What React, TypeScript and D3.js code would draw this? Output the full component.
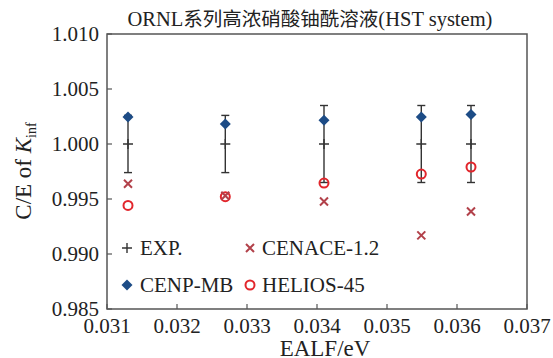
import React from "react";
import * as d3 from "d3";

const W = 553;
const H = 358;

const ealf = [0.0313, 0.03269, 0.0341, 0.03549, 0.0362];
const expVal = [1.0, 1.0, 1.0, 1.0, 1.0];
const expErr = [0.0026, 0.0026, 0.0035, 0.0035, 0.0035];
const cenpMB = [1.00245, 1.00182, 1.00215, 1.00245, 1.00269];
const cenace = [0.99639, 0.9953, 0.99478, 0.99169, 0.99387];
const helios = [0.99442, 0.99521, 0.99645, 0.99727, 0.99791];

const xTicks = [0.031, 0.032, 0.033, 0.034, 0.035, 0.036, 0.037];
const yTicks = [0.985, 0.99, 0.995, 1.0, 1.005, 1.01];

const titleParts = ["ORNL", "系列高浓硝酸铀酰溶液", "(HST system)"];
const xLabel = "EALF/eV";

const FONT = "Liberation Serif, Times New Roman, serif";
const CJK = "Noto Sans CJK SC, sans-serif";
const BLUE = "#1d4c86";
const XRED = "#b2414a";
const CRED = "#e2262c";
const AXIS = "#555";

const M = { left: 107, right: 527, top: 34, bottom: 309 };

export default function App() {
  const x = d3.scaleLinear().domain([0.031, 0.037]).range([M.left, M.right]);
  const y = d3.scaleLinear().domain([0.985, 1.01]).range([M.bottom, M.top]);
  const diamond = (cx: number, cy: number, rx = 5.5, ry = 5.5) =>
    `M${cx},${cy - ry}L${cx + rx},${cy}L${cx},${cy + ry}L${cx - rx},${cy}Z`;
  const cross = (cx: number, cy: number, r = 4) =>
    `M${cx - r},${cy - r}L${cx + r},${cy + r}M${cx - r},${cy + r}L${cx + r},${cy - r}`;
  const plus = (cx: number, cy: number, r = 5) =>
    `M${cx - r},${cy}L${cx + r},${cy}M${cx},${cy - r}L${cx},${cy + r}`;

  return (
    <svg
      width={W}
      height={H}
      fontFamily={FONT}
      style={{ position: "absolute", left: 0, top: 0, background: "#fff" }}
    >
      <rect x={0} y={0} width={W} height={H} fill="#fff" />
      <text x={310} y={26} textAnchor="middle" fontSize={20.5} fill="#222">
        <tspan>{titleParts[0]}</tspan>
        <tspan fontFamily={CJK} fontSize={19.5}>{titleParts[1]}</tspan>
        <tspan>{titleParts[2]}</tspan>
      </text>

      {/* ticks */}
      {xTicks.map((t, i) => (
        <g key={"xt" + i}>
          <line x1={x(t)} x2={x(t)} y1={M.bottom} y2={M.bottom - 5} stroke={AXIS} strokeWidth={1.2} />
          <text x={x(t)} y={333} textAnchor="middle" fontSize={21} fill="#222">
            {d3.format(".3f")(t)}
          </text>
        </g>
      ))}
      {yTicks.map((t, i) => (
        <g key={"yt" + i}>
          <line x1={M.left} x2={M.left + 5} y1={y(t)} y2={y(t)} stroke={AXIS} strokeWidth={1.2} />
          <text x={99} y={y(t)} dy="0.35em" textAnchor="end" fontSize={21} fill="#222">
            {d3.format(".3f")(t)}
          </text>
        </g>
      ))}

      <rect
        x={M.left}
        y={M.top}
        width={M.right - M.left}
        height={M.bottom - M.top}
        fill="none"
        stroke={AXIS}
        strokeWidth={1.5}
      />

      <text x={325} y={356} textAnchor="middle" fontSize={23} fill="#222">
        {xLabel}
      </text>
      <text
        transform={`translate(31,${171}) rotate(-90)`}
        textAnchor="middle"
        fontSize={23}
        fill="#222"
      >
        C/E of <tspan fontStyle="italic">K</tspan>
        <tspan fontSize={14} dy={5}>inf</tspan>
      </text>

      {/* EXP error bars */}
      {ealf.map((e, i) => {
        const cx = x(e);
        const y1 = y(expVal[i] + expErr[i]);
        const y2 = y(expVal[i] - expErr[i]);
        return (
          <g key={"eb" + i} stroke="#333" strokeWidth={1.4} fill="none">
            <line x1={cx} x2={cx} y1={y1} y2={y2} />
            <line x1={cx - 4} x2={cx + 4} y1={y1} y2={y1} />
            <line x1={cx - 4} x2={cx + 4} y1={y2} y2={y2} />
            <path d={plus(cx, y(expVal[i]))} />
          </g>
        );
      })}

      {/* HELIOS circles */}
      {ealf.map((e, i) => (
        <circle key={"h" + i} cx={x(e)} cy={y(helios[i])} r={4.5} fill="none" stroke={CRED} strokeWidth={2} />
      ))}
      {/* CENACE crosses */}
      {ealf.map((e, i) => (
        <path key={"c" + i} d={cross(x(e), y(cenace[i]))} stroke={XRED} strokeWidth={2} fill="none" />
      ))}
      {/* CENP-MB diamonds */}
      {ealf.map((e, i) => (
        <path key={"d" + i} d={diamond(x(e), y(cenpMB[i]))} fill={BLUE} />
      ))}

      {/* legend */}
      <path d={plus(127, 248, 5)} stroke="#333" strokeWidth={1.4} fill="none" />
      <text x={140} y={255} fontSize={21} fill="#222">EXP.</text>
      <path d={cross(250, 248, 4)} stroke={XRED} strokeWidth={2} fill="none" />
      <text x={262} y={255} fontSize={21} fill="#222">CENACE-1.2</text>
      <path d={diamond(127, 285, 5.5, 5.5)} fill={BLUE} />
      <text x={140} y={292} fontSize={21} fill="#222">CENP-MB</text>
      <circle cx={250} cy={285} r={4.5} fill="none" stroke={CRED} strokeWidth={2} />
      <text x={262} y={292} fontSize={21} fill="#222">HELIOS-45</text>
    </svg>
  );
}
